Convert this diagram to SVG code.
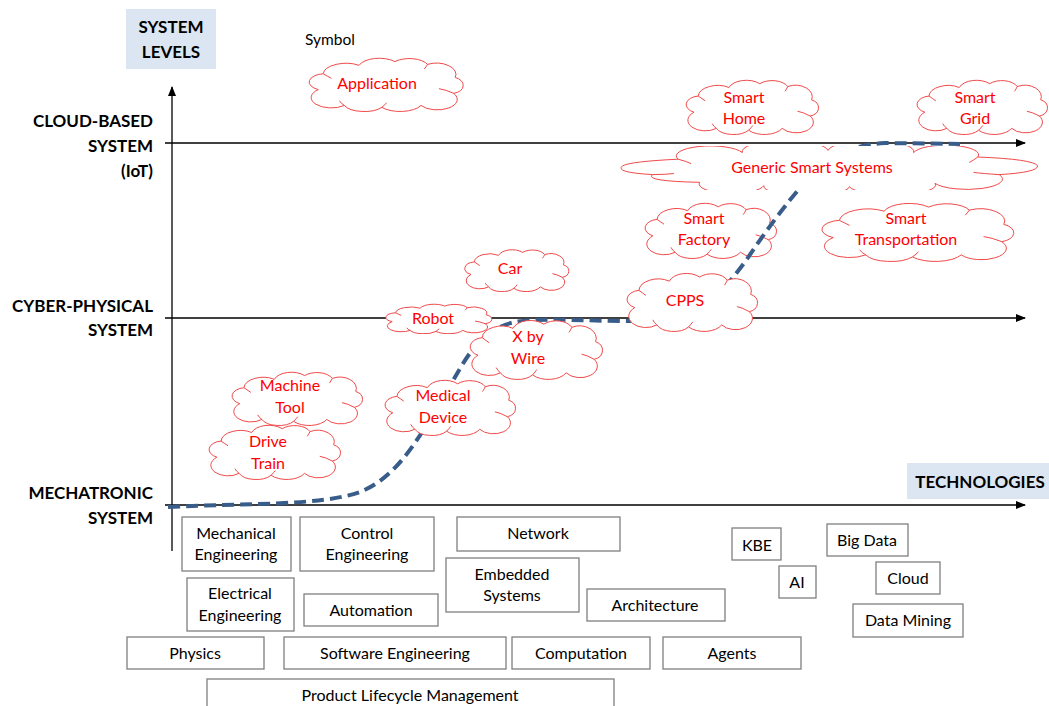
<svg xmlns="http://www.w3.org/2000/svg" xmlns:xlink="http://www.w3.org/1999/xlink" width="1049" height="706" viewBox="0 0 1049 706">
<style>
.lbl{font-family:Lato,"Liberation Sans",sans-serif;font-weight:bold;font-size:17px;fill:#000}
.ct{font-family:Lato,"Liberation Sans",sans-serif;font-size:16px;fill:#ff0000;text-anchor:middle}
.bt{font-family:Lato,"Liberation Sans",sans-serif;font-size:16px;fill:#000;text-anchor:middle}
.box{fill:#fff;stroke:#7f7f7f;stroke-width:1.3}
.axis{stroke:#000;stroke-width:1.3;fill:none}
.cl{fill:#fff;stroke:#f04a4a;stroke-width:1}
.curve{fill:none;stroke:#385d8a;stroke-width:4;stroke-dasharray:12 6}
</style>
<defs>
<marker id="arr" markerWidth="10" markerHeight="8" refX="9" refY="4" orient="auto" markerUnits="userSpaceOnUse">
<path d="M0,0 L10,4 L0,8 Z" fill="#000"/>
</marker>
<symbol id="cloud" viewBox="0 0 100 60" preserveAspectRatio="none">
<path class="cl" vector-effect="non-scaling-stroke" d="M10,36 A10,9 0 0 1 13,19 A14,12 0 0 1 35,10 A13,11 0 0 1 57,6 A12,10 0 0 1 77,9 A12,12 0 0 1 94,23 A8,9 0 0 1 93,40 A12,11 0 0 1 73,53 A14,11 0 0 1 49,55 A13,10 0 0 1 26,53 A10,9 0 0 1 10,36 Z"/>
<path fill="none" stroke="#f04a4a" stroke-width="1" vector-effect="non-scaling-stroke" d="M13,19 Q16,22 18,24 M77,9 Q76,12 75,14 M93,40 Q88,36 84,35 M49,55 Q51,52 52,50 M26,53 Q24,51 23,48"/>
</symbol>
<symbol id="cloudwide" viewBox="0 0 200 40" preserveAspectRatio="none">
<path class="cl" vector-effect="non-scaling-stroke" d="M18,26 Q0,24 4,18 Q8,14 30,12 A14,8 0 0 1 60,6 A16,8 0 0 1 100,4 A16,8 0 0 1 140,6 A14,8 0 0 1 170,10 Q196,12 198,18 Q198,24 180,26 A14,8 0 0 1 150,34 A18,8 0 0 1 110,37 A18,8 0 0 1 70,36 A14,8 0 0 1 40,33 Q14,32 18,26 Z"/>
<path fill="none" stroke="#f04a4a" stroke-width="1" vector-effect="non-scaling-stroke" d="M30,12 Q34,14 36,16 M170,10 Q168,13 166,15 M180,26 Q172,25 168,24 M18,26 Q24,26 28,25"/>
</symbol>
</defs>

<g id="title-system-levels">
<rect x="126" y="9" width="90" height="60" fill="#dce6f2"/>
<text class="lbl" x="171" y="33" text-anchor="middle">SYSTEM</text>
<text class="lbl" x="171" y="58" text-anchor="middle">LEVELS</text>
</g>
<g id="title-technologies">
<rect x="907" y="463" width="142" height="36" fill="#dce6f2"/>
<text class="lbl" x="980" y="488" text-anchor="middle">TECHNOLOGIES</text>
</g>
<g id="level-labels">
<text class="lbl" x="153" y="127" text-anchor="end">CLOUD-BASED</text>
<text class="lbl" x="153" y="152" text-anchor="end">SYSTEM</text>
<text class="lbl" x="153" y="177" text-anchor="end">(IoT)</text>
<text class="lbl" x="153" y="312" text-anchor="end">CYBER-PHYSICAL</text>
<text class="lbl" x="153" y="336" text-anchor="end">SYSTEM</text>
<text class="lbl" x="153" y="499" text-anchor="end">MECHATRONIC</text>
<text class="lbl" x="153" y="524" text-anchor="end">SYSTEM</text>
</g>
<text x="305" y="45" font-family="Lato,'Liberation Sans',sans-serif" font-size="15.5" fill="#000">Symbol</text>

<g id="connectors">
<line class="axis" x1="172" y1="551" x2="172" y2="87" marker-end="url(#arr)"/>
<line class="axis" x1="165" y1="143" x2="1025" y2="143" marker-end="url(#arr)"/>
<line class="axis" x1="165" y1="318" x2="1025" y2="318" marker-end="url(#arr)"/>
<line class="axis" x1="165" y1="505" x2="1025" y2="505" marker-end="url(#arr)"/>
</g>

<g id="cloud-application"><use xlink:href="#cloud" x="302" y="56" width="163" height="56"/><text class="ct" x="377" y="89">Application</text></g>
<g id="cloud-smart-home"><use xlink:href="#cloud" x="680" y="78" width="140" height="57"/><text class="ct" x="744" y="103">Smart</text><text class="ct" x="744" y="124">Home</text></g>
<g id="cloud-smart-grid"><use xlink:href="#cloud" x="911" y="78" width="138" height="57"/><text class="ct" x="975" y="103">Smart</text><text class="ct" x="975" y="124">Grid</text></g>
<g id="cloud-smart-factory"><use xlink:href="#cloud" x="639" y="201" width="139" height="58"/><text class="ct" x="704" y="224">Smart</text><text class="ct" x="704" y="245">Factory</text></g>
<g id="cloud-smart-transportation"><use xlink:href="#cloud" x="813" y="201" width="203" height="61"/><text class="ct" x="906" y="224">Smart</text><text class="ct" x="906" y="245">Transportation</text></g>
<g id="cloud-car"><use xlink:href="#cloud" x="460" y="248" width="110" height="44"/><text class="ct" x="510" y="274">Car</text></g>
<g id="cloud-robot"><use xlink:href="#cloud" x="381" y="303" width="112" height="31"/><text class="ct" x="433" y="324">Robot</text></g>

<path class="curve" d="M168,507 C250,503 320,506 360,492 C395,478 415,445 445,395 C465,360 478,330 515,322 C545,317 600,322 645,321 C700,318 720,295 745,262 C765,232 785,205 805,182 C825,158 850,145 885,143 L960,144"/>

<g id="cloud-generic-smart-systems"><use xlink:href="#cloudwide" x="614" y="146" width="428" height="44"/><text class="ct" x="812" y="173">Generic Smart Systems</text></g>
<g id="cloud-cpps"><use xlink:href="#cloud" x="621" y="271" width="138" height="61"/><text class="ct" x="685" y="306">CPPS</text></g>
<g id="cloud-x-by-wire"><use xlink:href="#cloud" x="464" y="318" width="140" height="62"/><text class="ct" x="528" y="342">X by</text><text class="ct" x="528" y="364">Wire</text></g>
<g id="cloud-medical-device"><use xlink:href="#cloud" x="379" y="378" width="138" height="58"/><text class="ct" x="443" y="401">Medical</text><text class="ct" x="443" y="423">Device</text></g>
<g id="cloud-machine-tool"><use xlink:href="#cloud" x="226" y="370" width="138" height="56"/><text class="ct" x="290" y="391">Machine</text><text class="ct" x="290" y="413">Tool</text></g>
<g id="cloud-drive-train"><use xlink:href="#cloud" x="203" y="423" width="139" height="57"/><text class="ct" x="268" y="447">Drive</text><text class="ct" x="268" y="469">Train</text></g>

<g id="box-mechanical-engineering"><rect class="box" x="182" y="517" width="109" height="54"/><text class="bt" x="236" y="539">Mechanical</text><text class="bt" x="236" y="560">Engineering</text></g>
<g id="box-control-engineering"><rect class="box" x="300" y="517" width="134" height="54"/><text class="bt" x="367" y="539">Control</text><text class="bt" x="367" y="560">Engineering</text></g>
<g id="box-network"><rect class="box" x="457" y="517" width="163" height="34"/><text class="bt" x="538" y="539">Network</text></g>
<g id="box-embedded-systems"><rect class="box" x="446" y="558" width="133" height="54"/><text class="bt" x="512" y="580">Embedded</text><text class="bt" x="512" y="601">Systems</text></g>
<g id="box-electrical-engineering"><rect class="box" x="187" y="578" width="107" height="53"/><text class="bt" x="240" y="599">Electrical</text><text class="bt" x="240" y="621">Engineering</text></g>
<g id="box-automation"><rect class="box" x="304" y="594" width="134" height="32"/><text class="bt" x="371" y="616">Automation</text></g>
<g id="box-architecture"><rect class="box" x="587" y="589" width="138" height="32"/><text class="bt" x="655" y="611">Architecture</text></g>
<g id="box-physics"><rect class="box" x="127" y="637" width="137" height="32"/><text class="bt" x="195" y="659">Physics</text></g>
<g id="box-software-engineering"><rect class="box" x="284" y="637" width="222" height="32"/><text class="bt" x="395" y="659">Software Engineering</text></g>
<g id="box-computation"><rect class="box" x="512" y="637" width="138" height="32"/><text class="bt" x="581" y="659">Computation</text></g>
<g id="box-agents"><rect class="box" x="663" y="637" width="138" height="32"/><text class="bt" x="732" y="659">Agents</text></g>
<g id="box-plm"><rect class="box" x="207" y="679" width="407" height="40"/><text class="bt" x="410" y="701">Product Lifecycle Management</text></g>
<g id="box-kbe"><rect class="box" x="732" y="528" width="49" height="32"/><text class="bt" x="757" y="551">KBE</text></g>
<g id="box-ai"><rect class="box" x="779" y="566" width="37" height="32"/><text class="bt" x="797" y="588">AI</text></g>
<g id="box-big-data"><rect class="box" x="827" y="524" width="81" height="32"/><text class="bt" x="867" y="546">Big Data</text></g>
<g id="box-cloud"><rect class="box" x="876" y="562" width="64" height="32"/><text class="bt" x="908" y="584">Cloud</text></g>
<g id="box-data-mining"><rect class="box" x="853" y="604" width="110" height="33"/><text class="bt" x="908" y="626">Data Mining</text></g>
</svg>
